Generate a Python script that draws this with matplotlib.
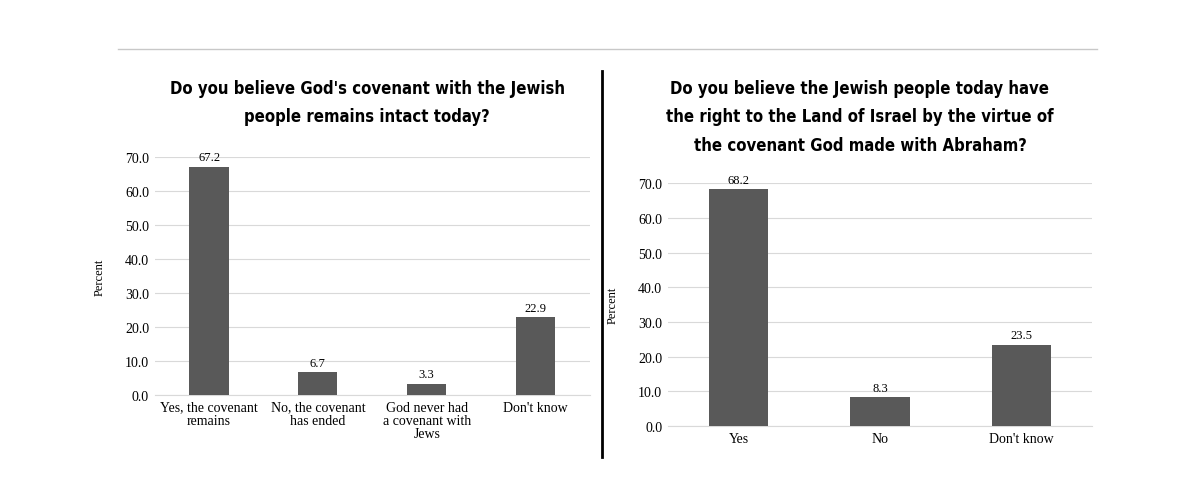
import matplotlib.pyplot as plt
from matplotlib.lines import Line2D

left_cats = ['Yes, the covenant\nremains', 'No, the covenant\nhas ended', 'God never had\na covenant with\nJews', "Don't know"]
left_vals = [67.2, 6.7, 3.3, 22.9]
right_cats = ['Yes', 'No', "Don't know"]
right_vals = [68.2, 8.3, 23.5]
left_title = "Do you believe God's covenant with the Jewish\npeople remains intact today?"
right_title = "Do you believe the Jewish people today have\nthe right to the Land of Israel by the virtue of\nthe covenant God made with Abraham?"

serif = 'Liberation Serif'
fig = plt.figure(figsize=(11.99, 5.02), dpi=100)
fig.add_artist(Line2D([118/1199, 1097/1199], [1-50/502, 1-50/502], color='#c8c8c8', lw=1))
fig.add_artist(Line2D([602/1199, 602/1199], [1-72/502, 1-458/502], color='black', lw=2))

def panel(rect, cats, vals, title, bw, title_x):
    ax = fig.add_axes(rect)
    x = range(len(cats))
    ax.bar(x, vals, width=bw, color='#595959', zorder=3)
    for i, v in zip(x, vals):
        ax.text(i, v + 1, f'{v:.1f}', ha='center', va='bottom', fontsize=9, family=serif)
    ax.set_ylim(0, 70)
    ax.set_xlim(-0.5, len(cats) - 0.5)
    ax.set_yticks(range(0, 71, 10))
    ax.set_yticklabels([f'{t:.1f}' for t in range(0, 71, 10)], family=serif, fontsize=10)
    ax.set_xticks(list(x))
    ax.set_xticklabels(cats, family=serif, fontsize=10, linespacing=1.0)
    ax.grid(axis='y', color='#d9d9d9', lw=0.8, zorder=0)
    for s in ['top', 'right', 'left']:
        ax.spines[s].set_visible(False)
    ax.spines['bottom'].set_color('#d9d9d9')
    ax.tick_params(length=0, pad=4)
    ax.set_ylabel('Percent', family=serif, fontsize=9, labelpad=14)
    fig.text(title_x, 1 - 80/502, title, ha='center', va='top', fontsize=12,
             fontweight='bold', fontstretch='condensed', family='DejaVu Sans', linespacing=1.75)
    return ax

panel([0.129, 0.211, 0.363, 0.474], left_cats, left_vals, left_title, 0.36, 367/1199)
panel([0.557, 0.149, 0.354, 0.484], right_cats, right_vals, right_title, 0.42, 860/1199)
fig.savefig('out.png', dpi=100)
